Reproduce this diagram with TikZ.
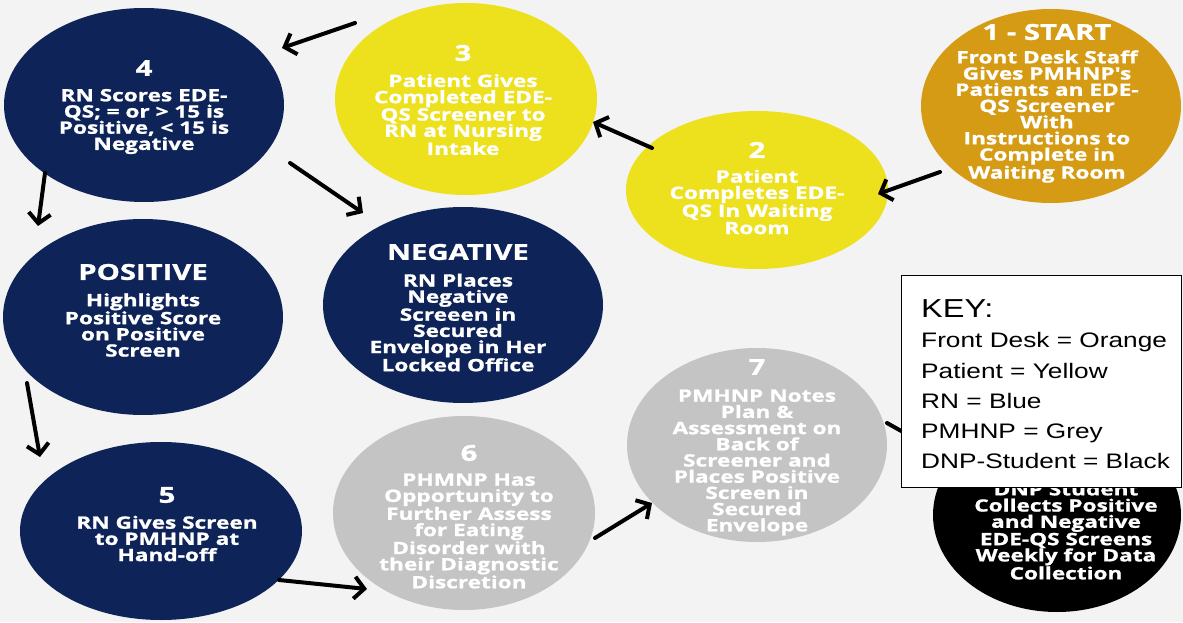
\documentclass[tikz,border=0pt]{standalone}
\usepackage{fontspec}
\usetikzlibrary{arrows.meta,shapes.geometric}
\newfontfamily\circfont[FakeStretch=1.33, BoldFeatures={FakeBold=1.2}]{Open Sans}
\newfontfamily\keyfont[FakeStretch=1.25]{Liberation Sans}
\definecolor{navy}{HTML}{0E2357}
\definecolor{yel}{HTML}{EDE01D}
\definecolor{orng}{HTML}{D59B14}
\definecolor{gry}{HTML}{C4C4C4}
\definecolor{bgc}{HTML}{F3F3F3}
\tikzset{
  ell/.style={ellipse, draw=none, inner sep=0, outer sep=0},
  body/.style={text=white, font=\circfont\bfseries\fontsize{17}{16.2}\selectfont, align=center, inner sep=0},
  num/.style={text=white, font=\circfont\bfseries\fontsize{22}{22}\selectfont, inner sep=0},
  head/.style={text=white, font=\circfont\bfseries\fontsize{22}{22}\selectfont, inner sep=0},
  arr/.style={line width=4pt, line cap=round, -{Straight Barb[length=10pt,width=22pt]}},
  keyline/.style={anchor=base west, inner sep=0, font=\keyfont\fontsize{21}{21}\selectfont},
}
\begin{document}
\begin{tikzpicture}[x=1pt,y=1pt]
\fill[bgc] (0,0) rectangle (1183,622);
\useasboundingbox (0,0) rectangle (1183,622);
% ellipses
\node[ell, fill=orng, minimum width=260, minimum height=194] (c1) at (1051,516) {};
\node[ell, fill=yel,  minimum width=262, minimum height=158] (c2) at (757,432) {};
\node[ell, fill=yel,  minimum width=262, minimum height=192] (c3) at (466,523) {};
\node[ell, fill=navy, minimum width=280, minimum height=194] (c4) at (144,517) {};
\node[ell, fill=navy, minimum width=280, minimum height=196] (pos) at (143,305) {};
\node[ell, fill=navy, minimum width=280, minimum height=196] (neg) at (463,317) {};
\node[ell, fill=navy, minimum width=282, minimum height=178] (c5) at (161,91) {};
\node[ell, fill=gry,  minimum width=262, minimum height=194] (c6) at (464,109) {};
\node[ell, fill=gry,  minimum width=260, minimum height=194] (c7) at (757,177) {};
\node[ell, fill=black, minimum width=248, minimum height=194] (c8) at (1057,107) {};
% texts
\node[head] (t1h) at (1047,590) {1 - START};
\node[body] (t1b) at (1047,505.5) {Front Desk Staff\\Gives PMHNP's\\Patients an EDE-\\QS Screener\\With\\Instructions to\\Complete in\\Waiting Room};
\node[num] (t2h) at (757,472) {2};
\node[body] (t2b) at (757,420) {Patient\\Completes EDE-\\QS In Waiting\\Room};
\node[num] (t3h) at (463,569) {3};
\node[body] (t3b) at (463,507.5) {Patient Gives\\Completed EDE-\\QS Screener to\\RN at Nursing\\Intake};
\node[num] (t4h) at (144,554) {4};
\node[body] (t4b) at (144,500.5) {RN Scores EDE-\\QS; = or > 15 is\\Positive, < 15 is\\Negative};
\node[head] (tph) at (143,350) {POSITIVE};
\node[body] (tpb) at (143,297) {Highlights\\Positive Score\\on Positive\\Screen};
\node[head] (tnh) at (458,370) {NEGATIVE};
\node[body] (tnb) at (458,299.5) {RN Places\\Negative\\Screeen in\\Secured\\Envelope in Her\\Locked Office};
\node[num] (t5h) at (167,127) {5};
\node[body] (t5b) at (167,83.5) {RN Gives Screen\\to PMHNP at\\Hand-off};
\node[num] (t6h) at (469,169) {6};
\node[body] (t6b) at (469,91) {PHMNP Has\\Opportunity to\\Further Assess\\for Eating\\Disorder with\\their Diagnostic\\Discretion};
\node[num] (t7h) at (757,255) {7};
\node[body] (t7b) at (757,159.5) {PMHNP Notes\\Plan \&\\Assessment on\\Back of\\Screener and\\Places Positive\\Screen in\\Secured\\Envelope};
\node[body] (t8b) at (1066,91) {DNP Student\\Collects Positive\\and Negative\\EDE-QS Screens\\Weekly for Data\\Collection};
% arrows
\draw[arr] ([shift={(-111,-66)}]c1.center) -- ([shift={(121,-4)}]c2.center);
\draw[arr] ([shift={(-105,42)}]c2.center) -- ([shift={(127,-23)}]c3.center);
\draw[arr] ([shift={(-111,76)}]c3.center) -- ([shift={(138,57)}]c4.center);
\draw[arr] ([shift={(-99,-68)}]c4.center) -- ([shift={(-105,91)}]pos.center);
\draw[arr] ([shift={(146,-58)}]c4.center) -- ([shift={(-100,92)}]neg.center);
\draw[arr] ([shift={(-116,-66)}]pos.center) -- ([shift={(-121,74)}]c5.center);
\draw[arr] ([shift={(118,-49)}]c5.center) -- ([shift={(-97,-76)}]c6.center);
\draw[arr] ([shift={(131,-25)}]c6.center) -- ([shift={(-105,-58)}]c7.center);
\draw[arr] ([shift={(130,22)}]c7.center) -- ([shift={(-122,65)}]c8.center);
% key
\node[draw=black, fill=white, line width=1pt, minimum width=280, minimum height=212, anchor=north west, inner sep=0] (key) at (901,347) {};
\node[keyline, font=\keyfont\fontsize{26}{26}\selectfont] (k0) at (921,305) {KEY:};
\node[keyline] (k1) at (921,275) {Front Desk = Orange};
\node[keyline] (k2) at (921,244) {Patient = Yellow};
\node[keyline] (k3) at (921,214) {RN = Blue};
\node[keyline] (k4) at (921,184) {PMHNP = Grey};
\node[keyline] (k5) at (921,154) {DNP-Student = Black};
\end{tikzpicture}
\end{document}
